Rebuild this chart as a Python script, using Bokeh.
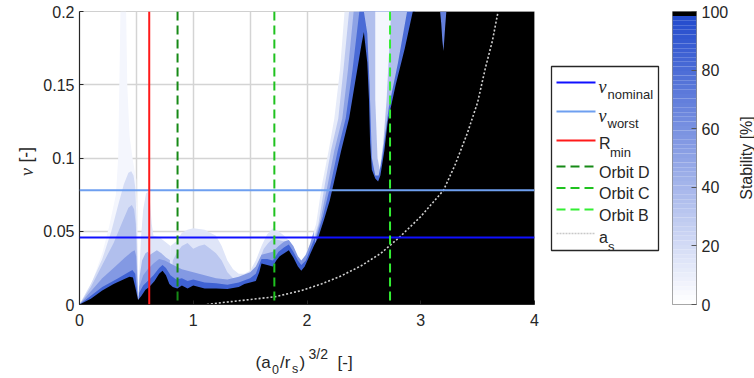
import math
from bokeh.plotting import figure
from bokeh.models import Range1d, FixedTicker, Span, ColumnDataSource
from bokeh.layouts import row, column
from bokeh.embed import file_html
from bokeh.resources import INLINE
from bokeh.core.properties import value
from bokeh.transform import linear_cmap

# ------------------------------------------------------------------ data
x_ticks = [0, 1, 2, 3, 4]
x_grid = [0.5, 1, 1.5, 2, 2.5, 3, 3.5]
y_ticks = [0, 0.05, 0.1, 0.15, 0.2]
y_grid = [0.05, 0.1, 0.15]
stab_ticks = [0, 20, 40, 60, 80, 100]

nu_nominal = 0.0457
nu_worst = 0.078
R_min = 0.613
orbit_D = 0.862
orbit_C = 1.713
orbit_B = 2.73

a_s_x = [1.12, 1.3, 1.5, 1.72, 1.95, 2.13, 2.3, 2.48, 2.65, 2.81, 3.0, 3.2, 3.3, 3.41, 3.5, 3.57, 3.63, 3.68]
a_s_nu = [0.0, 0.0017, 0.0034, 0.0053, 0.0095, 0.0141, 0.0195, 0.0266, 0.035, 0.0457, 0.06, 0.078, 0.095, 0.117, 0.138, 0.162, 0.18, 0.2]

# stability regions: polygon vertices ((a0/rs)^(3/2), nu) -- region where stability >= level
fan_06 = [(0, 0), (0.026, 0.004), (0.114, 0.016), (0.2, 0.035), (0.26, 0.053), (0.32, 0.075), (0.34, 0.1), (0.35, 0.15), (0.36, 0.2), (0.41, 0.2), (0.42, 0.15), (0.44, 0.115), (0.47, 0.098), (0.5, 0.085), (0.51, 0.05), (0.515, 0)]
fan_20 = [(0, 0), (0.1, 0.014), (0.2, 0.031), (0.28, 0.05), (0.34, 0.068), (0.39, 0.082), (0.43, 0.09), (0.455, 0.091), (0.475, 0.088), (0.49, 0.08), (0.5, 0.06), (0.51, 0.03), (0.515, 0)]
fan_35 = [(0, 0), (0.1, 0.012), (0.2, 0.027), (0.3, 0.042), (0.38, 0.057), (0.43, 0.066), (0.46, 0.068), (0.48, 0.065), (0.495, 0.055), (0.505, 0.03), (0.515, 0)]
fan_55 = [(0, 0), (0.1, 0.009), (0.2, 0.018), (0.3, 0.025), (0.4, 0.032), (0.46, 0.036), (0.485, 0.037), (0.498, 0.033), (0.508, 0.015), (0.515, 0)]
fan_85 = [(0, 0), (0.2, 0.012), (0.34, 0.018), (0.43, 0.022), (0.465, 0.0235), (0.49, 0.021), (0.505, 0.01), (0.515, 0)]
sub_15 = [(0.515, 0), (0.525, 0.02), (0.54, 0.045), (0.56, 0.065), (0.585, 0.076), (0.605, 0.077), (0.62, 0.07), (0.635, 0.055), (0.65, 0.047), (0.7, 0.046), (0.75, 0.043), (0.8, 0.04), (0.8, 0)]
sub_40 = [(0.515, 0), (0.53, 0.02), (0.55, 0.03), (0.58, 0.035), (0.6, 0.036), (0.62, 0.034), (0.64, 0.035), (0.68, 0.037), (0.72, 0.035), (0.76, 0.032), (0.8, 0.03), (0.8, 0)]
d_12 = [(1.93, 0), (1.95, 0.028), (2.02, 0.04), (2.08, 0.055), (2.13, 0.081), (2.19, 0.105), (2.24, 0.127), (2.29, 0.16), (2.33, 0.2), (2.95, 0.2), (2.95, 0)]
d_30 = [(1.96, 0), (2.04, 0.04), (2.1, 0.055), (2.155, 0.081), (2.21, 0.105), (2.275, 0.127), (2.32, 0.16), (2.37, 0.2), (2.95, 0.2), (2.95, 0)]
d_50 = [(1.98, 0), (2.06, 0.042), (2.12, 0.058), (2.18, 0.081), (2.24, 0.105), (2.31, 0.127), (2.36, 0.16), (2.41, 0.2), (2.95, 0.2), (2.95, 0)]
d_80 = [(2.0, 0), (2.08, 0.045), (2.14, 0.06), (2.205, 0.081), (2.27, 0.105), (2.34, 0.127), (2.4, 0.16), (2.46, 0.2), (2.95, 0.2), (2.95, 0)]
cloud_15 = [(0.78, 0), (0.8, 0.04), (0.85, 0.043), (0.9, 0.049), (0.95, 0.051), (1.0, 0.052), (1.1, 0.051), (1.2, 0.047), (1.25, 0.04), (1.3, 0.03), (1.35, 0.024), (1.4, 0.021), (1.45, 0.021), (1.5, 0.023), (1.55, 0.03), (1.6, 0.04), (1.65, 0.048), (1.7, 0.052), (1.75, 0.05), (1.8, 0.047), (1.85, 0.043), (1.9, 0.035), (1.95, 0.029), (1.98, 0.03), (1.98, 0)]
cloud_30a = [(0.8, 0), (0.82, 0.03), (0.86, 0.036), (0.9, 0.04), (0.95, 0.042), (1.0, 0.038), (1.05, 0.04), (1.1, 0.041), (1.15, 0.038), (1.2, 0.035), (1.25, 0.03), (1.3, 0.022), (1.35, 0.018), (1.35, 0)]
cloud_30b = [(1.55, 0), (1.58, 0.03), (1.62, 0.038), (1.66, 0.042), (1.7, 0.045), (1.75, 0.044), (1.8, 0.043), (1.85, 0.04), (1.9, 0.033), (1.95, 0.027), (1.95, 0)]
fringe_55 = [(0.515, 0), (0.525, 0.012), (0.56, 0.02), (0.6, 0.024), (0.65, 0.028), (0.7, 0.031), (0.75, 0.03), (0.8, 0.028), (0.85, 0.026), (0.9, 0.024), (1.0, 0.022), (1.1, 0.02), (1.2, 0.018), (1.3, 0.017), (1.4, 0.019), (1.5, 0.022), (1.55, 0.026), (1.6, 0.034), (1.7, 0.036), (1.75, 0.04), (1.8, 0.043), (1.84, 0.044), (1.88, 0.04), (1.92, 0.033), (1.95, 0.03), (1.99, 0.034), (2.03, 0.042), (2.06, 0.05), (2.06, 0)]
fringe_85 = [(0.515, 0), (0.525, 0.008), (0.56, 0.013), (0.6, 0.016), (0.65, 0.02), (0.7, 0.025), (0.73, 0.027), (0.76, 0.025), (0.8, 0.02), (0.85, 0.017), (0.9, 0.018), (0.95, 0.016), (1.0, 0.017), (1.05, 0.016), (1.1, 0.015), (1.2, 0.0145), (1.3, 0.0135), (1.4, 0.015), (1.5, 0.018), (1.55, 0.021), (1.6, 0.031), (1.65, 0.031), (1.7, 0.03), (1.75, 0.036), (1.8, 0.039), (1.84, 0.041), (1.88, 0.036), (1.92, 0.03), (1.95, 0.027), (1.99, 0.03), (2.03, 0.038), (2.07, 0.046), (2.07, 0)]
tongue_35 = [(2.5, 0.2), (2.88, 0.2), (2.8, 0.165), (2.72, 0.135), (2.66, 0.1), (2.63, 0.088), (2.6, 0.088), (2.57, 0.1), (2.55, 0.15), (2.53, 0.185)]
tongue_05 = [(2.6, 0.2), (2.74, 0.2), (2.72, 0.17), (2.7, 0.14), (2.67, 0.11), (2.64, 0.092), (2.62, 0.1), (2.6, 0.14)]
stable_100 = [(0, 0), (0.1, 0.004), (0.2, 0.0096), (0.3, 0.014), (0.4, 0.0175), (0.44, 0.019), (0.47, 0.0185), (0.49, 0.012), (0.515, 0.003), (0.545, 0.006), (0.58, 0.01), (0.613, 0.012), (0.66, 0.016), (0.7, 0.021), (0.73, 0.023), (0.76, 0.02), (0.79, 0.014), (0.82, 0.012), (0.86, 0.011), (0.9, 0.013), (0.95, 0.011), (1.0, 0.013), (1.05, 0.012), (1.1, 0.011), (1.2, 0.011), (1.3, 0.0105), (1.4, 0.012), (1.45, 0.014), (1.5, 0.015), (1.55, 0.016), (1.58, 0.022), (1.6, 0.028), (1.65, 0.027), (1.7, 0.026), (1.73, 0.03), (1.76, 0.033), (1.8, 0.035), (1.84, 0.037), (1.88, 0.032), (1.92, 0.026), (1.95, 0.023), (1.98, 0.026), (2.02, 0.033), (2.06, 0.04), (2.1, 0.046), (2.15, 0.058), (2.2, 0.071), (2.23, 0.081), (2.3, 0.105), (2.37, 0.127), (2.43, 0.155), (2.48, 0.178), (2.5, 0.186), (2.53, 0.165), (2.545, 0.14), (2.555, 0.11), (2.57, 0.092), (2.6, 0.086), (2.625, 0.084), (2.645, 0.088), (2.68, 0.105), (2.71, 0.125), (2.78, 0.15), (2.86, 0.175), (2.93, 0.2), (4, 0.2), (4, 0)]
streak_70 = [(3.17, 0.2), (3.225, 0.2), (3.215, 0.19), (3.2, 0.173), (3.19, 0.18), (3.18, 0.192)]

regions = [fan_06, fan_20, fan_35, fan_55, fan_85, sub_15, sub_40, d_12, d_30, d_50, d_80,
           cloud_15, cloud_30a, cloud_30b, fringe_55, fringe_85, tongue_35, tongue_05, stable_100, streak_70]
region_stability = [6, 20, 35, 55, 85, 15, 40, 12, 30, 50, 80, 15, 30, 30, 55, 85, 35, 5, 100, 70]

# ------------------------------------------------------------------ style
FONT = "Liberation Sans"
TXT = "#262626"
DASH = "9 5"
UP = math.pi / 2          # text reading bottom-to-top
blue_end = (35, 75, 205)
palette = []
for i in range(63):
    t = i / 62
    c = tuple(round(255 + (b - 255) * t) for b in blue_end)
    palette.append("#%02x%02x%02x" % c)
palette.append("#000000")
cmap = linear_cmap("stab", palette, 0, 100)
H = 378


def strip(x0, x1, y0, y1):
    """blank helper figure covering page pixels x0..x1, y0..y1 (y from top)"""
    f = figure(width=x1 - x0, height=y1 - y0, x_range=Range1d(x0, x1), y_range=Range1d(H - y1, H - y0),
               output_backend="svg", toolbar_location=None, x_axis_type=None, y_axis_type=None,
               min_border=0, frame_align=False)
    f.grid.visible = False
    f.outline_line_color = None
    f.border_fill_color = "white"
    f.background_fill_color = "white"
    return f


def txt(f, s, x, y, size, style="normal", font=FONT, angle=0, align="left"):
    f.text(x=[x], y=[H - y], text=[s], text_font=value(font), text_font_size=size,
           text_font_style=style, text_color=TXT, text_baseline="alphabetic",
           text_align=align, angle=angle)


# ------------------------------------------------------------------ main plot
p = figure(width=505, height=338, x_range=Range1d(0, 4), y_range=Range1d(0, 0.2),
           output_backend="svg", toolbar_location=None, frame_align=False,
           min_border_left=37, min_border_right=11, min_border_top=11, min_border_bottom=34)
p.background_fill_color = "white"
p.border_fill_color = "white"
p.outline_line_color = "#d0d0d0"

src = ColumnDataSource(dict(xs=[[v[0] for v in r] for r in regions],
                            ys=[[v[1] for v in r] for r in regions],
                            stab=region_stability))
p.patches("xs", "ys", source=src, fill_color=cmap, line_color=None)

p.xaxis.ticker = FixedTicker(ticks=x_ticks)
p.yaxis.ticker = FixedTicker(ticks=y_ticks)
p.yaxis.major_label_overrides = {0: "0", 0.05: "0.05", 0.1: "0.1", 0.15: "0.15", 0.2: "0.2"}
p.xgrid.ticker = FixedTicker(ticks=x_grid)
p.ygrid.ticker = FixedTicker(ticks=y_grid)
p.grid.grid_line_color = "#d4d4d4"
p.grid.grid_line_width = 1.5
for ax in (p.xaxis, p.yaxis):
    ax.major_label_text_font = FONT
    ax.major_label_text_font_size = "16px"
    ax.major_label_text_color = TXT
    ax.axis_line_color = TXT
    ax.axis_line_width = 1.2
    ax.major_tick_in = 4
    ax.major_tick_out = 0
    ax.major_tick_line_color = TXT
    ax.minor_tick_line_color = None
p.xaxis.major_label_standoff = 9
p.yaxis.major_label_standoff = 5

p.add_layout(Span(location=nu_nominal, dimension="width", line_color="#1010ff", line_width=2))
p.add_layout(Span(location=nu_worst, dimension="width", line_color="#6e9ff0", line_width=2))
p.line(a_s_x, a_s_nu, line_color="#cfcfcf", line_width=1.6, line_dash="2 2")
p.add_layout(Span(location=R_min, dimension="height", line_color="#ff1a1a", line_width=2))
p.add_layout(Span(location=orbit_D, dimension="height", line_color="#168a16", line_width=2, line_dash=DASH))
p.add_layout(Span(location=orbit_C, dimension="height", line_color="#1fc21f", line_width=2, line_dash=DASH))
p.add_layout(Span(location=orbit_B, dimension="height", line_color="#33ee33", line_width=2, line_dash=DASH))

# ------------------------------------------------------------------ y label strip (nu [-])
yl = strip(0, 40, 0, 378)
txt(yl, "ν", 26, 175.5, "18px", "italic", "Liberation Serif", angle=UP)
txt(yl, "[-]", 25, 162, "17.5px", angle=UP)

# ------------------------------------------------------------------ x label strip ((a0/rs)^{3/2} [-])
xl = strip(40, 545, 338, 378)
txt(xl, "(a", 255, 362, "17px")
txt(xl, "0", 271.5, 368.5, "12.5px")
txt(xl, "/r", 279.5, 362, "17px")
txt(xl, "s", 291.5, 368.5, "12.5px")
txt(xl, ")", 299, 362, "17px")
txt(xl, "3/2", 308, 353.5, "14px")
txt(xl, "[-]", 337, 362, "17px")

# ------------------------------------------------------------------ legend panel
lg = strip(545, 665, 0, 378)
lg.quad(left=551, right=658, top=H - 66, bottom=H - 250, fill_color="white", line_color=TXT, line_width=1.3)
legend_rows = [82, 111, 140, 166, 187.5, 209, 233]
legend_styles = [("#1010ff", "solid"), ("#6e9ff0", "solid"), ("#ff1a1a", "solid"),
                 ("#168a16", DASH), ("#1fc21f", DASH), ("#33ee33", DASH), ("#c8c8c8", "2 1")]
for yy, (col, dash) in zip(legend_rows, legend_styles):
    lg.line([556, 595], [H - yy, H - yy], line_color=col, line_width=2 if dash != "2 1" else 1.5, line_dash=dash)

txt(lg, "ν", 598, 86, "18px", "italic", "Liberation Serif")
txt(lg, "nominal", 607, 93.5, "13px")
txt(lg, "ν", 598, 115, "18px", "italic", "Liberation Serif")
txt(lg, "worst", 607, 122.5, "13px")
txt(lg, "R", 598.5, 143, "16px")
txt(lg, "min", 609.5, 152, "13px")
txt(lg, "Orbit D", 598.5, 171.5, "16px")
txt(lg, "Orbit C", 598.5, 193, "16px")
txt(lg, "Orbit B", 598.5, 214.5, "16px")
txt(lg, "a", 598.5, 237, "16px")
txt(lg, "s", 607.5, 245.5, "13px")

# ------------------------------------------------------------------ colorbar panel
cb = figure(width=66, height=378, x_range=Range1d(0, 1), y_range=Range1d(0, 100),
            output_backend="svg", toolbar_location=None, x_axis_type=None,
            y_axis_location="right", frame_align=False,
            min_border_left=7, min_border_right=34, min_border_top=11, min_border_bottom=74)
cb.grid.visible = False
cb.outline_line_color = "#8a8a8a"
cb.border_fill_color = "white"
n = len(palette)
cb.quad(left=0, right=1, bottom=[i * 100 / n for i in range(n)], top=[(i + 1) * 100 / n for i in range(n)],
        fill_color=palette, line_color=None)
ya = cb.yaxis[0]
ya.ticker = FixedTicker(ticks=stab_ticks)
ya.axis_line_color = None
ya.major_tick_in = 5
ya.major_tick_out = 0
ya.major_tick_line_color = "#555555"
ya.minor_tick_line_color = None
ya.major_label_text_font = FONT
ya.major_label_text_font_size = "16px"
ya.major_label_text_color = TXT
ya.major_label_standoff = 5

sl = strip(731, 754, 0, 378)
txt(sl, "Stability [%]", 746, 157.5, "16px", angle=UP, align="center")

layout = row(yl, column(p, xl, spacing=0), lg, cb, sl, spacing=0)
open("out.html", "w").write(file_html(layout, INLINE))
